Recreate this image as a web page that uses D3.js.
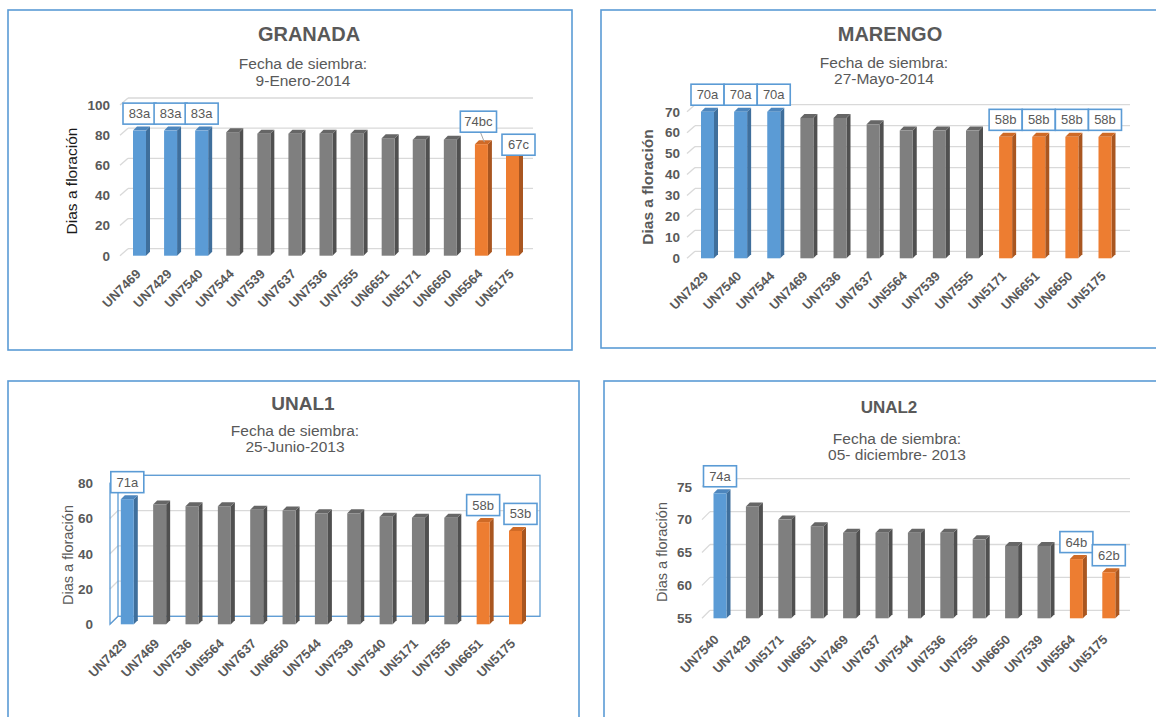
<!DOCTYPE html>
<html>
<head>
<meta charset="utf-8">
<script src="https://cdn.jsdelivr.net/npm/d3@7"></script>
<style>
  body { margin: 0; background: #fff; }
  svg { display: block; }
</style>
</head>
<body>
<svg id="chart" width="1156" height="717"></svg>
<script>
// Días a floración de trece genotipos en cuatro localidades.
// Letras = grupos de significancia (Tukey); barras azules = grupo "a", naranjas = último grupo.

const granadaCats    = ["UN7469","UN7429","UN7540","UN7544","UN7539","UN7637","UN7536","UN7555","UN6651","UN5171","UN6650","UN5564","UN5175"];
const granadaValues  = [83, 83, 83, 82, 81, 81, 81, 81, 78, 77, 77, 74, 67];
const granadaLetters = ["a","a","a","","","","","","","","","bc","c"];

const marengoCats    = ["UN7429","UN7540","UN7544","UN7469","UN7536","UN7637","UN5564","UN7539","UN7555","UN5171","UN6651","UN6650","UN5175"];
const marengoValues  = [70, 70, 70, 67, 67, 64, 61, 61, 61, 58, 58, 58, 58];
const marengoLetters = ["a","a","a","","","","","","","b","b","b","b"];

const unal1Cats      = ["UN7429","UN7469","UN7536","UN5564","UN7637","UN6650","UN7544","UN7539","UN7540","UN5171","UN7555","UN6651","UN5175"];
const unal1Values    = [71, 68, 67, 67, 65, 64.5, 63, 63, 61, 60.5, 60.5, 58, 53];
const unal1Letters   = ["a","","","","","","","","","","","b","b"];

const unal2Cats      = ["UN7540","UN7429","UN5171","UN6651","UN7469","UN7637","UN7544","UN7536","UN7555","UN6650","UN7539","UN5564","UN5175"];
const unal2Values    = [74, 72, 70, 69, 68, 68, 68, 68, 67, 66, 66, 64, 62];
const unal2Letters   = ["a","","","","","","","","","","","b","b"];

const panelTitles    = ["GRANADA", "MARENGO", "UNAL1", "UNAL2"];
const sowingDates    = ["9-Enero-2014", "27-Mayo-2014", "25-Junio-2013", "05- diciembre- 2013"];
const sowingCaption  = "Fecha de siembra:";
const yAxisTitle     = "Dias a floración";
const yDomains       = [[0, 100], [0, 70], [0, 80], [55, 75]];
const yTickSteps     = [20, 10, 20, 5];

// ---------- styling ----------
const FONT = "'Liberation Sans', Arial, Helvetica, sans-serif";
const TXT = "#595959";
const BLUE_LINE = "#5b9bd5";
const PALETTE = {
  top:  { front: "#5b9bd5", side: "#3f6f9c", cap: "#4d86bd" },
  mid:  { front: "#7f7f7f", side: "#505050", cap: "#666666" },
  low:  { front: "#ed7d31", side: "#a95620", cap: "#cf6a26" }
};
const colourFor = l => !l ? PALETTE.mid : (l[0] === "a" ? PALETTE.top : PALETTE.low);

// per-panel layout
const layouts = [
  { frame: [8, 10, 564, 340], title: [309, 41, 20], sub: [303, 69, 86],
    xr: [139.5, 512.5], yr: [255.7, 105], grid: [120, 533], depth: [8, -7], tickX: 110,
    axisTitle: { x: 72, y: 181, size: 15.5, weight: "normal", color: "#1a1a1a" },
    xLabel: [1.5, 19], nudges: { UN5564: { dx: -3, dy: -5.5, leader: true }, UN5175: { dx: 6, dy: 7 } } },
  { frame: [601, 10, 600, 338], title: [890, 41, 20], sub: [884, 68, 84],
    xr: [707.5, 1105], yr: [258.3, 111.7], grid: [687, 1130], depth: [8, -7], tickX: 680,
    axisTitle: { x: 648, y: 187, size: 15.5, weight: "bold", color: TXT },
    xLabel: [1, 18.5], nudges: {} },
  { frame: [8, 381, 571, 340], title: [303, 410, 19], sub: [295, 436, 452],
    xr: [127.3, 515.5], yr: [624.3, 483.3], grid: [110, 540], depth: [8, -8], tickX: 93,
    axisTitle: { x: 68, y: 555, size: 14.5, weight: "normal", color: TXT },
    xLabel: [0, 20], nudges: { UN5175: { dx: 5, dy: 0 } }, wall: true },
  { frame: [604, 381, 560, 340], title: [889, 413, 17], sub: [897, 444, 460],
    xr: [720, 1108.8], yr: [618.3, 486.7], grid: [702, 1130], depth: [8, -8], tickX: 692,
    axisTitle: { x: 662, y: 552, size: 14.5, weight: "normal", color: TXT },
    xLabel: [-1, 22], nudges: {} }
];

const series = [
  [granadaCats, granadaValues, granadaLetters],
  [marengoCats, marengoValues, marengoLetters],
  [unal1Cats, unal1Values, unal1Letters],
  [unal2Cats, unal2Values, unal2Letters]
];

const svg = d3.select("#chart").style("font-family", FONT);

const BAR_W = 13, BAR_D = 4, BOX_H = 21, BOX_MIN_W = 33, BOX_GAP = 6.5;

series.forEach(([cats, values, letters], i) => {
  const L = layouts[i];
  const g = svg.append("g");
  const [fx, fy, fw, fh] = L.frame;

  g.append("rect").attr("x", fx).attr("y", fy).attr("width", fw).attr("height", fh)
    .attr("fill", "#fff").attr("stroke", BLUE_LINE).attr("stroke-width", 1.6);

  g.append("text").attr("x", L.title[0]).attr("y", L.title[1]).attr("text-anchor", "middle")
    .attr("font-size", L.title[2]).attr("font-weight", "bold").attr("fill", TXT).text(panelTitles[i]);
  g.append("text").attr("x", L.sub[0]).attr("y", L.sub[1]).attr("text-anchor", "middle")
    .attr("font-size", 15.5).attr("fill", TXT).text(sowingCaption);
  g.append("text").attr("x", L.sub[0]).attr("y", L.sub[2]).attr("text-anchor", "middle")
    .attr("font-size", 15.5).attr("fill", TXT).text(sowingDates[i]);

  const x = d3.scalePoint().domain(cats).range(L.xr);
  const y = d3.scaleLinear().domain(yDomains[i]).range(L.yr);
  const base = yDomains[i][0];
  const ticks = d3.range(yDomains[i][0], yDomains[i][1] + yTickSteps[i] / 2, yTickSteps[i]);
  const [dx, dy] = L.depth;
  const [gx0, gx1] = L.grid;

  // back-wall gridlines with their short side-wall segments
  g.append("g").selectAll("line").data(ticks).join("line")
    .attr("x1", gx0 + dx).attr("x2", gx1)
    .attr("y1", d => y(d) + dy).attr("y2", d => y(d) + dy)
    .attr("stroke", "#d9d9d9").attr("stroke-width", 1.3);
  g.append("g").selectAll("line").data(ticks).join("line")
    .attr("x1", gx0).attr("x2", gx0 + dx)
    .attr("y1", d => y(d)).attr("y2", d => y(d) + dy)
    .attr("stroke", "#d9d9d9").attr("stroke-width", 1.3);

  // outlined plot box (back wall + left edge)
  if (L.wall) {
    const top = yDomains[i][1];
    const w = g.append("g").attr("fill", "none").attr("stroke", BLUE_LINE).attr("stroke-width", 1.3);
    w.append("rect").attr("x", gx0 + dx).attr("y", y(top) + dy)
      .attr("width", gx1 - gx0 - dx).attr("height", y(base) - y(top));
    w.append("path").attr("d",
      `M${gx0 + dx},${y(top) + dy}L${gx0},${y(top)}L${gx0},${y(base)}L${gx0 + dx},${y(base) + dy}`);
  }

  const rows = cats.map((c, k) => ({ c, v: values[k], letter: letters[k] }));

  // 3-D columns: side face, top face, front face
  const bars = g.append("g").selectAll("g").data(rows).join("g");
  bars.append("path")
    .attr("d", d => {
      const xr = x(d.c) + BAR_W / 2, yt = y(d.v), yb = y(base);
      return `M${xr},${yt}L${xr + BAR_D},${yt - BAR_D}L${xr + BAR_D},${yb - BAR_D}L${xr},${yb}Z`;
    })
    .attr("fill", d => colourFor(d.letter).side);
  bars.append("path")
    .attr("d", d => {
      const xl = x(d.c) - BAR_W / 2, xr = x(d.c) + BAR_W / 2, yt = y(d.v);
      return `M${xl},${yt}L${xl + BAR_D},${yt - BAR_D}L${xr + BAR_D},${yt - BAR_D}L${xr},${yt}Z`;
    })
    .attr("fill", d => colourFor(d.letter).cap);
  bars.append("rect")
    .attr("x", d => x(d.c) - BAR_W / 2).attr("y", d => y(d.v))
    .attr("width", BAR_W).attr("height", d => y(base) - y(d.v))
    .attr("fill", d => colourFor(d.letter).front);

  // y axis
  const ya = g.append("g").attr("transform", `translate(${L.tickX},0)`)
    .call(d3.axisLeft(y).tickValues(ticks).tickSize(0).tickPadding(0).tickFormat(d3.format("d")));
  ya.select(".domain").remove();
  ya.selectAll("text").attr("font-family", FONT).attr("font-size", 13.5)
    .attr("font-weight", "bold").attr("fill", TXT);

  // x axis, rotated labels
  const xa = g.append("g").attr("transform", `translate(0,${y(base) + L.xLabel[1]})`)
    .call(d3.axisBottom(x).tickSize(0).tickPadding(0));
  xa.select(".domain").remove();
  xa.selectAll("text").attr("font-family", FONT).attr("font-size", 13)
    .attr("font-weight", "bold").attr("fill", TXT)
    .attr("text-anchor", "end").attr("y", 0).attr("dy", 0)
    .attr("transform", `translate(${L.xLabel[0]},0) rotate(-45)`);

  // axis title
  g.append("text").attr("transform", `translate(${L.axisTitle.x},${L.axisTitle.y}) rotate(-90)`)
    .attr("text-anchor", "middle").attr("dy", "0.35em")
    .attr("font-size", L.axisTitle.size).attr("font-weight", L.axisTitle.weight)
    .attr("fill", L.axisTitle.color).text(yAxisTitle);

  // boxed value labels with significance letters
  const labelled = rows.filter(d => d.letter);
  const lg = g.append("g").selectAll("g").data(labelled).join("g");
  lg.each(function (d) {
    const n = L.nudges[d.c] || { dx: 0, dy: 0 };
    const cx = x(d.c) + n.dx;
    const bottom = y(d.v) - BOX_GAP + n.dy;
    const sel = d3.select(this);
    const t = sel.append("text").attr("x", cx).attr("y", bottom - 6).attr("text-anchor", "middle")
      .attr("font-size", 13).attr("fill", TXT).text(`${d.v}${d.letter}`);
    const tw = t.node().getComputedTextLength();
    const bw = Math.max(BOX_MIN_W, tw + 8);
    sel.insert("rect", "text").attr("x", cx - bw / 2).attr("y", bottom - BOX_H)
      .attr("width", bw).attr("height", BOX_H)
      .attr("fill", "#fff").attr("stroke", BLUE_LINE).attr("stroke-width", 1.6);
    if (n.leader) {
      sel.insert("line", "rect").attr("x1", cx + 2).attr("y1", bottom)
        .attr("x2", x(d.c) + 3).attr("y2", y(d.v) - 2)
        .attr("stroke", "#a6a6a6").attr("stroke-width", 1);
    }
  });
});
</script>
</body>
</html>
